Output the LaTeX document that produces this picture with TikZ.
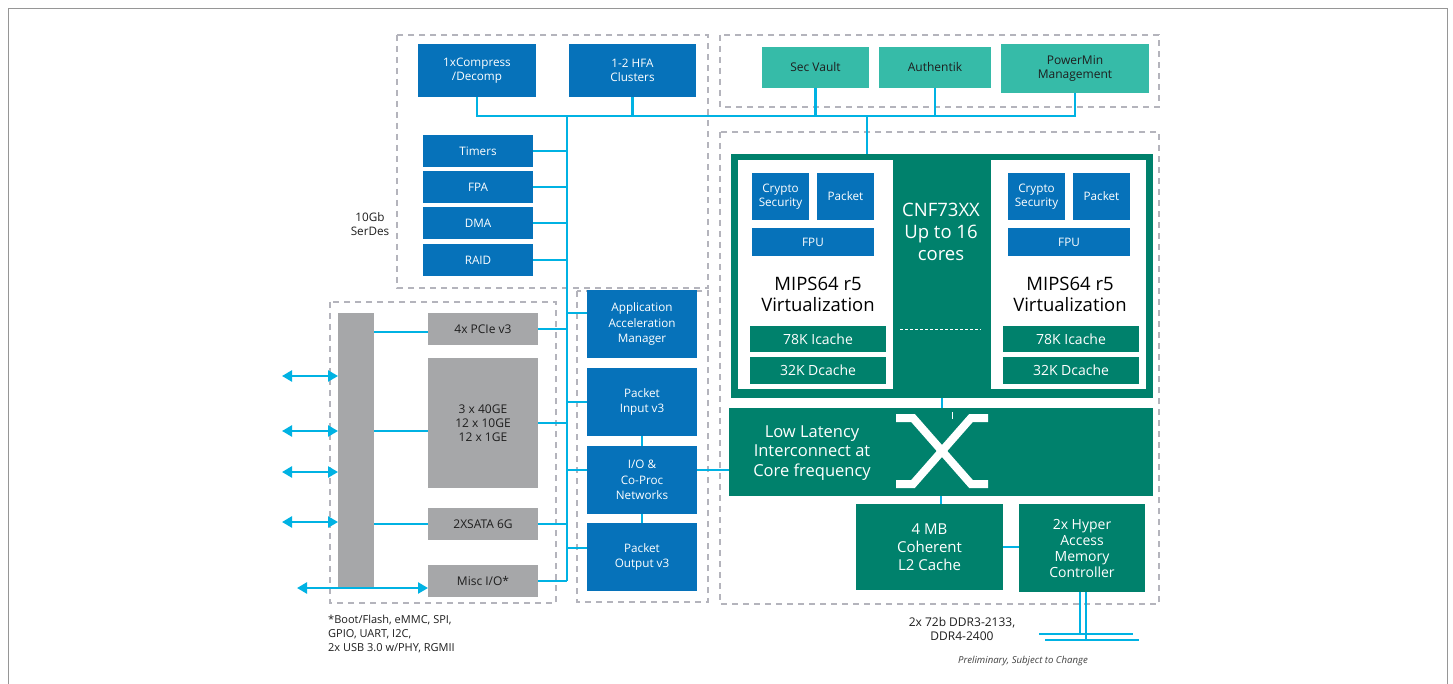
\documentclass[tikz,border=0pt]{standalone}
\usepackage{fontspec}
\setmainfont{Open Sans}
\usetikzlibrary{arrows.meta}
\definecolor{iblue}{RGB}{6,114,186}
\definecolor{iteal}{RGB}{54,187,168}
\definecolor{igreen}{RGB}{0,129,108}
\definecolor{igray}{RGB}{166,167,169}
\definecolor{icyan}{RGB}{0,178,227}
\definecolor{idash}{RGB}{180,180,188}
\definecolor{itext}{RGB}{30,30,30}
\definecolor{iframe}{RGB}{150,150,150}
\newcommand\fs[2]{\fontsize{#1}{#2}\selectfont}
\newcommand\bx[7]{\node[#1, minimum width=#5pt-#3pt, minimum height=#6pt-#4pt] (#2) at ({(#3+#5)/2},{(#4+#6)/2}) {#7};}
\tikzset{
  box/.style={inner sep=0pt, outer sep=0pt, align=center, font=\fs{11.7}{14.5}},
  bluebox/.style={box, fill=iblue, text=white},
  tealbox/.style={box, fill=iteal, text=itext},
  greenbox/.style={box, fill=igreen, text=white},
  graybox/.style={box, fill=igray, text=itext},
  whitebox/.style={box, fill=white},
  conn/.style={draw=icyan, line width=2.5pt},
  dbox/.style={draw=idash, line width=1.3pt, dash pattern=on 6pt off 5pt},
  arr/.style={conn, {Triangle[length=10pt,width=11pt]}-{Triangle[length=10pt,width=11pt]}},
  lbl/.style={inner sep=0pt, align=center, text=itext},
}
\begin{document}
\begin{tikzpicture}[x=1pt,y=-1pt]
\useasboundingbox (0,0) rectangle (1453,684);
\fill[white] (0,0) rectangle (1453,684);
% frame
\draw[iframe, line width=1.5pt] (8.5,684) -- (8.5,8.5) -- (1447.5,8.5) -- (1447.5,684);
% dashed groups
\draw[dbox] (397,35) rectangle (708,288);
\draw[dbox] (720,35) rectangle (1159,107);
\draw[dbox] (720,132) rectangle (1159,604);
\draw[dbox] (330,302) rectangle (556,603);
\draw[dbox] (577,291) rectangle (708,602);

% top-left blocks
\bx{bluebox}{comp}{418}{44}{536}{97}{1xCompress\\/Decomp}
\bx{bluebox}{hfa}{569}{44}{696}{97}{1-2 HFA\\Clusters}
\bx{bluebox}{tim}{423}{135}{533}{167}{Timers}
\bx{bluebox}{fpa}{423}{171}{533}{203}{FPA}
\bx{bluebox}{dma}{423}{207}{533}{239}{DMA}
\bx{bluebox}{raid}{423}{244}{533}{276}{RAID}
\node[lbl, font=\fs{11.7}{14}] (serdes) at (370,224) {10Gb\\SerDes};

% top-right blocks
\bx{tealbox,font=\fs{12}{14}}{sv}{762}{47}{869}{88}{Sec Vault}
\bx{tealbox,font=\fs{12}{14}}{au}{879}{47}{991}{88}{Authentik}
\bx{tealbox,font=\fs{12}{14}}{pm}{1001}{44}{1149}{93}{PowerMin\\Management}

% IO blocks
\bx{graybox}{bar}{338}{313}{374}{587}{}
\bx{graybox,font=\fs{12}{14}}{pcie}{428}{313}{538}{345}{4x PCIe v3}
\bx{graybox,font=\fs{12}{14}}{ge}{428}{358}{538}{488}{3 x 40GE\\12 x 10GE\\12 x 1GE}
\bx{graybox,font=\fs{12}{14}}{sata}{428}{508}{538}{540}{2XSATA 6G}
\bx{graybox,font=\fs{12}{14}}{misc}{428}{565}{538}{597}{Misc I/O*}

% middle column
\bx{bluebox,font=\fs{11.7}{15.5}}{aam}{587}{290}{697}{358}{Application\\Acceleration\\Manager}
\bx{bluebox,font=\fs{11.7}{15.5}}{inp}{587}{368}{697}{436}{Packet\\Input v3}
\bx{bluebox,font=\fs{11.7}{15.5}}{io}{587}{446}{697}{514}{I/O \&\\Co-Proc\\Networks}
\bx{bluebox,font=\fs{11.7}{15.5}}{pout}{587}{523}{697}{591}{Packet\\Output v3}

% CNF block
\bx{greenbox}{cnf}{731}{154}{1153}{398}{}
\bx{whitebox}{coreL}{738}{160}{893}{389}{}
\bx{whitebox}{coreR}{991}{160}{1146}{389}{}
\node[lbl, text=white, font=\fs{18.5}{22}] (cnft) at (941,232) {CNF73XX\\Up to 16\\cores};
\draw[white, line width=0.8pt, dash pattern=on 3pt off 2pt] (900,329) -- (981,329);

\bx{bluebox}{cryL}{752}{173}{809}{220}{Crypto\\Security}
\bx{bluebox}{pkL}{817}{173}{874}{220}{Packet}
\bx{bluebox}{fpuL}{752}{228}{874}{256}{FPU}
\node[lbl, text=black, font=\fs{18.5}{21}] (mipsL) at (818,294) {MIPS64 r5\\Virtualization};
\bx{greenbox,font=\fs{14}{15}}{icL}{750}{326}{886}{352}{78K Icache}
\bx{greenbox,font=\fs{14}{15}}{dcL}{750}{357}{886}{384}{32K Dcache}

\bx{bluebox}{cryR}{1008}{173}{1065}{220}{Crypto\\Security}
\bx{bluebox}{pkR}{1073}{173}{1130}{220}{Packet}
\bx{bluebox}{fpuR}{1008}{228}{1130}{256}{FPU}
\node[lbl, text=black, font=\fs{18.5}{21}] (mipsR) at (1070,294) {MIPS64 r5\\Virtualization};
\bx{greenbox,font=\fs{14}{15}}{icR}{1003}{326}{1139}{352}{78K Icache}
\bx{greenbox,font=\fs{14}{15}}{dcR}{1003}{357}{1139}{384}{32K Dcache}

% interconnect
\bx{greenbox}{ic}{729}{408}{1153}{496}{}
\node[lbl, text=white, font=\fs{16.5}{19.5}] (ict) at (812,453) {Low Latency\\Interconnect at\\Core frequency};
\draw[white, line width=8pt] (896,418) -- (913,418) -- (971,484) -- (988,484);
\draw[white, line width=8pt] (896,484) -- (913,484) -- (971,418) -- (988,418);
\draw[white, line width=0.8pt] (952,412) -- (952,419);

\bx{greenbox,font=\fs{15}{18}}{l2}{856}{504}{1003}{590}{4 MB\\Coherent\\L2 Cache}
\bx{greenbox,font=\fs{14}{16}}{hy}{1019}{504}{1145}{592}{2x Hyper\\Access\\Memory\\Controller}

% texts
\node[lbl, anchor=north west, align=left, font=\fs{11}{14}] (foot) at (328,615) {*Boot/Flash, eMMC, SPI,\\GPIO, UART, I2C,\\2x USB 3.0 w/PHY, RGMII};
\node[lbl, font=\fs{12}{14}] (ddr) at (962,629) {2x 72b DDR3-2133,\\DDR4-2400};
\node[lbl, font=\fs{9.6}{11}\itshape, text=black!75] (prelim) at (1023,661) {Preliminary, Subject to Change};

% buses
\coordinate (busL) at (477,116);
\coordinate (busR) at (1075,116);
\coordinate (vbT) at (567,116);
\coordinate (vbB) at (567,581);
\coordinate (topc) at (867,116);
\draw[conn] (comp.south) -- (busL) -- (busR) -- (pm.south);
\draw[conn] (hfa.south) -- (hfa.south |- busL);
\draw[conn] (sv.south) -- (sv.south |- busL);
\draw[conn] (au.south) -- (au.south |- busL);
\draw[conn] (vbT) -- (vbB);
\draw[conn] (topc) -- (topc |- cnf.north);
\foreach \n in {tim,fpa,dma,raid,pcie,ge,sata,misc}
  \draw[conn] (\n.east) -- (\n.east -| vbT);
\draw[conn] ([yshift=11pt]aam.west) -- ([yshift=11pt]aam.west -| vbT);
\draw[conn] (inp.west) -- (inp.west -| vbT);
\draw[conn] ([yshift=10pt]io.west) -- ([yshift=10pt]io.west -| vbT);
\draw[conn] ([yshift=9pt]pout.west) -- ([yshift=9pt]pout.west -| vbT);
\draw[conn] (inp.south) -- (io.north);
\draw[conn] (io.south) -- (pout.north);
\draw[conn] ([yshift=10pt]io.east) -- ([yshift=10pt]io.east -| ic.west);
\coordinate (pcw) at ([yshift=-3pt]pcie.west);
\coordinate (gew) at ([yshift=-8pt]ge.west);
\draw[conn] (pcw -| bar.east) -- (pcw);
\draw[conn] (gew -| bar.east) -- (gew);
\draw[conn] (sata.west -| bar.east) -- (sata.west);
\draw[conn] (cnf.south) -- (cnf.south |- ic.north);
\draw[conn] (ic.south) -- (ic.south |- l2.north);
\draw[conn] (l2.east) -- (l2.east -| hy.west);
% memory bus
\coordinate (m1) at (1080,634);
\coordinate (m2) at (1086,634);
\draw[icyan, line width=2pt] (m1 |- hy.south) -- (m1);
\draw[icyan, line width=2pt] (m2 |- hy.south) -- (m2 |- 0,640);
\coordinate (h1a) at (1039,634); \coordinate (h1b) at (1133,634);
\coordinate (h2a) at (1045,640); \coordinate (h2b) at (1139,640);
\draw[icyan, line width=2pt] (h1a) -- (h1b);
\draw[icyan, line width=2pt] (h2a) -- (h2b);
% arrows
\coordinate (a1) at (282,376);
\coordinate (a2) at (282,431);
\coordinate (a3) at (282,472);
\coordinate (a4) at (282,522);
\coordinate (a5) at (297,588);
\foreach \a in {a1,a2,a3,a4}
  \draw[arr] (\a) -- (\a -| bar.west);
\draw[arr] (a5) -- (a5 -| misc.west);
\end{tikzpicture}
\end{document}
